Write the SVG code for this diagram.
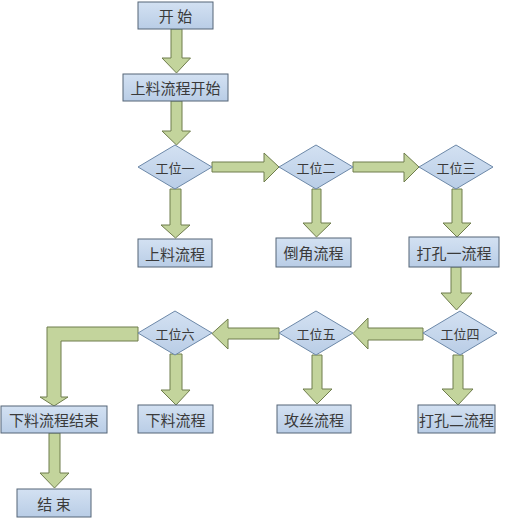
<svg xmlns="http://www.w3.org/2000/svg" width="508" height="520" viewBox="0 0 508 520">
<defs>
<linearGradient id="bg" x1="0" y1="0" x2="0" y2="1">
<stop offset="0" stop-color="#d3e1f2"/>
<stop offset="1" stop-color="#b9cde6"/>
</linearGradient>
<style>
.box{fill:url(#bg);stroke:#556577;stroke-width:1}
.dia{fill:url(#bg);stroke:#6c88a8;stroke-width:1}
.arr{fill:#c3d49c;stroke:#6f7d4c;stroke-width:1;stroke-linejoin:miter}
.t{font-family:"Noto Sans CJK SC","Noto Sans",sans-serif;font-size:15px;fill:#3a3a3a;text-anchor:middle;dominant-baseline:central}
.td{font-family:"Noto Sans CJK SC","Noto Sans",sans-serif;font-size:13px;fill:#3a3a3a;text-anchor:middle;dominant-baseline:central}
</style>
</defs>
<rect width="508" height="520" fill="#ffffff"/>
<g id="connectors">
<polygon class="arr" points="171,29 182,29 182,58 190.5,58 176.5,73 162,58 171,58"/>
<polygon class="arr" points="171,101 182,101 182,131 190.5,131 176.5,145 162,131 171,131"/>
<polygon class="arr" points="170,189 181,189 181,225 190,225 175.5,238 161,225 170,225"/>
<polygon class="arr" points="312,189 321,189 321,223 331,223 316.5,237 303,223 312,223"/>
<polygon class="arr" points="452,189 462,189 462,223 471,223 457,237 443,223 452,223"/>
<polygon class="arr" points="451,267 461,267 461,293 472,293 456.5,310 441,293 451,293"/>
<polygon class="arr" points="453,355 463,355 463,389 473,389 458,405 442,389 453,389"/>
<polygon class="arr" points="312,355 322,355 322,389 332,389 317,404 303,389 312,389"/>
<polygon class="arr" points="170,354 182,354 182,390 190,390 176,405 161,390 170,390"/>
<polygon class="arr" points="49,433 60,433 60,473 69,473 54.5,488 40,473 49,473"/>
<polygon class="arr" points="212,162 264,162 264,153 279,167 264,182 264,172 212,172"/>
<polygon class="arr" points="353,162 404,162 404,153 419,167 404,182 404,172 353,172"/>
<polygon class="arr" points="423,328 368,328 368,318 353,333.5 368,349 368,340 423,340"/>
<polygon class="arr" points="279,328 228,328 228,319 212,333.5 228,349 228,339 279,339"/>
<polygon class="arr" points="138,327 47,327 47,397 40,397 54,406 68,397 61,397 61,341 138,341"/>
</g>
<g id="start"><rect class="box" x="138" y="2" width="75" height="27"/><text class="t" x="175.5" y="15.5">开 始</text></g>
<g id="load-start"><rect class="box" x="123" y="74" width="105" height="27"/><text class="t" x="175.5" y="87.5">上料流程开始</text></g>
<g id="st1"><polygon class="dia" points="138,167 175,145 212,167 175,189"/><text class="td" x="175" y="167">工位一</text></g>
<g id="st2"><polygon class="dia" points="279,167 316,145 353,167 316,189"/><text class="td" x="316" y="167">工位二</text></g>
<g id="st3"><polygon class="dia" points="419,167 456,145 493,167 456,189"/><text class="td" x="456" y="167">工位三</text></g>
<g id="st4"><polygon class="dia" points="423,333 460,311 497,333 460,355"/><text class="td" x="460" y="333">工位四</text></g>
<g id="st5"><polygon class="dia" points="279,333 316,311 353,333 316,355"/><text class="td" x="316" y="333">工位五</text></g>
<g id="st6"><polygon class="dia" points="138,333 175,311 212,333 175,355"/><text class="td" x="175" y="333">工位六</text></g>
<g id="load"><rect class="box" x="138" y="239" width="74" height="28"/><text class="t" x="175" y="253">上料流程</text></g>
<g id="chamfer"><rect class="box" x="276" y="238" width="75" height="29"/><text class="t" x="313.5" y="252.5">倒角流程</text></g>
<g id="drill1"><rect class="box" x="409" y="237" width="90" height="30"/><text class="t" x="454" y="252">打孔一流程</text></g>
<g id="drill2"><rect class="box" x="418" y="405" width="77" height="28"/><text class="t" x="456.5" y="419">打孔二流程</text></g>
<g id="tap"><rect class="box" x="277" y="405" width="74" height="28"/><text class="t" x="314" y="419">攻丝流程</text></g>
<g id="unload"><rect class="box" x="138" y="405" width="75" height="28"/><text class="t" x="175.5" y="419">下料流程</text></g>
<g id="unload-end"><rect class="box" x="1" y="406" width="106" height="27"/><text class="t" x="54" y="419.5">下料流程结束</text></g>
<g id="end"><rect class="box" x="17" y="489" width="74" height="28"/><text class="t" x="54" y="503">结 束</text></g>
</svg>
